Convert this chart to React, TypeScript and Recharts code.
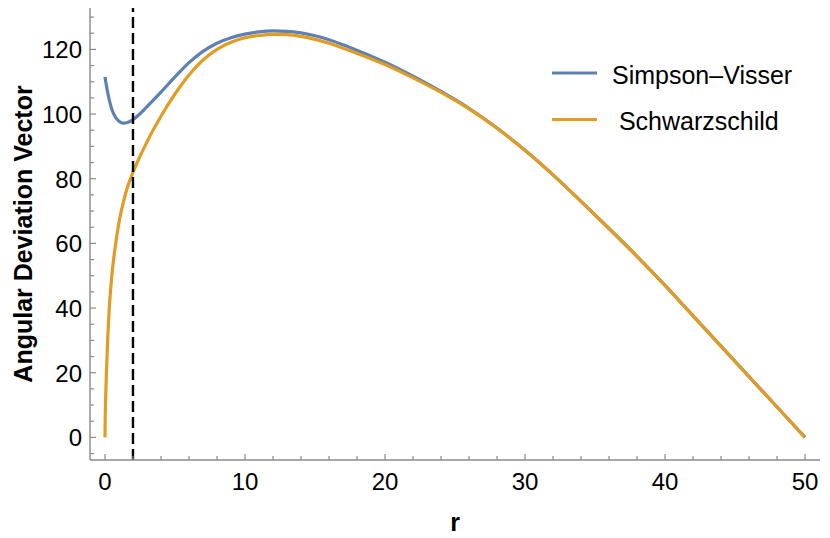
import { Legend, Line, LineChart, ReferenceLine, XAxis, YAxis } from 'recharts';

// r values sampled along the curves (dense near r = 0 where it rises fast)
const rValues = [
  0, 0.02, 0.05, 0.1, 0.2, 0.3, 0.5, 0.75, 1, 1.3, 1.6, 2, 2.5, 3, 4, 5, 6, 7,
  8, 9, 10, 11, 12, 13, 14, 15, 16, 17.5, 20, 22, 24, 26, 28, 30, 32, 34, 36,
  38, 40, 42, 44, 46, 48, 50,
];

const simpsonVisser = [
  111.5, 110.9, 110.1, 108.8, 106.5, 104.5, 101.3, 99, 97.8, 97.2, 97.4, 98.3,
  100.1, 102.3, 106.8, 111.5, 115.9, 119.4, 121.9, 123.6, 124.7, 125.4, 125.7,
  125.6, 125.1, 124.2, 123, 120.6, 116, 111.7, 107, 101.8, 95.7, 88.8, 81.2,
  73, 64.6, 56, 47, 37.6, 28.2, 18.8, 9.4, 0,
];

const schwarzschild = [
  0, 7, 12.5, 19.5, 31, 39.5, 50.5, 59.5, 66.5, 72.5, 77.3, 82, 86.9, 91.4,
  99.3, 106.2, 112.1, 116.7, 120, 122.2, 123.6, 124.3, 124.65, 124.55, 124,
  123.1, 121.9, 119.6, 115.3, 111.2, 106.7, 101.6, 95.6, 88.8, 81.2, 73, 64.6,
  56, 47, 37.6, 28.2, 18.8, 9.4, 0,
];

const xTicks = [
  0, 2, 4, 6, 8, 10, 12, 14, 16, 18, 20, 22, 24, 26, 28, 30, 32, 34, 36, 38, 40,
  42, 44, 46, 48, 50,
];
const yTicks = [
  -5, 0, 5, 10, 15, 20, 25, 30, 35, 40, 45, 50, 55, 60, 65, 70, 75, 80, 85, 90,
  95, 100, 105, 110, 115, 120, 125, 130,
];

const horizonR = 2;

const seriesNames = ['Simpson\u2013Visser', ' Schwarzschild'];

const BLUE = '#5E81B5';
const ORANGE = '#E19C24';
const FRAME = '#8a8a8a';
const FONT = '"Liberation Sans", Arial, sans-serif';

const data = rValues.map((r, i) => ({
  r,
  sv: simpsonVisser[i],
  sch: schwarzschild[i],
}));

const XTick = (props: any) => {
  const { x, y, payload, top } = props;
  const major = payload.value % 10 === 0;
  const len = major ? 6 : 4;
  return (
    <g>
      <line x1={x} x2={x} y1={y} y2={top ? y + len : y - len} stroke={FRAME} strokeWidth={1.2} />
      {!top && major && (
        <text x={x} y={y + 30} textAnchor="middle" fontSize={24} fontFamily={FONT} fill="#000">
          {payload.value}
        </text>
      )}
    </g>
  );
};

const YTick = (props: any) => {
  const { x, y, payload, right } = props;
  const major = payload.value % 20 === 0;
  const len = major ? 6 : 4;
  return (
    <g>
      <line x1={x} x2={right ? x - len : x + len} y1={y} y2={y} stroke={FRAME} strokeWidth={1.2} />
      {!right && major && (
        <text x={x - 8} y={y + 9} textAnchor="end" fontSize={24} fontFamily={FONT} fill="#000">
          {payload.value}
        </text>
      )}
    </g>
  );
};

const LegendBox = () => (
  <svg width={270} height={95} style={{ display: 'block' }}>
    {[BLUE, ORANGE].map((c, i) => (
      <g key={i}>
        <line x1={7} x2={52} y1={23 + i * 46.5} y2={23 + i * 46.5} stroke={c} strokeWidth={3.2} />
        <text
          x={67}
          y={34 + i * 46}
          fontSize={25}
          fontFamily={FONT}
          fill="#000"
          style={{ whiteSpace: 'pre' }}
        >
          {seriesNames[i]}
        </text>
      </g>
    ))}
  </svg>
);

export default function App() {
  return (
    <div style={{ position: 'absolute', left: 0, top: 0, width: 830, height: 538, background: '#fff' }}>
      <LineChart
        width={830}
        height={538}
        data={data}
        margin={{ top: 8, right: 10, left: 0, bottom: 0 }}
      >
        <XAxis
          dataKey="r"
          type="number"
          domain={[-1.07, 51.07]}
          allowDataOverflow
          ticks={xTicks}
          interval={0}
          height={78}
          tickSize={0}
          tickMargin={0}
          tickLine={false}
          tick={<XTick />}
          axisLine={{ stroke: FRAME, strokeWidth: 1.4 }}
          label={{
            content: (p: any) => (
              <text
                x={p.viewBox.x + p.viewBox.width / 2}
                y={p.viewBox.y + 71}
                textAnchor="middle"
                fontSize={25}
                fontWeight="bold"
                fontFamily={FONT}
              >
                r
              </text>
            ),
          }}
        />
        <XAxis
          xAxisId="top"
          orientation="top"
          dataKey="r"
          type="number"
          domain={[-1.07, 51.07]}
          allowDataOverflow
          ticks={xTicks}
          interval={0}
          height={0}
          tickSize={0}
          tickMargin={0}
          tickLine={false}
          tick={<XTick top />}
          axisLine={{ stroke: FRAME, strokeWidth: 1.4 }}
        />
        <YAxis
          type="number"
          domain={[-7, 132.8]}
          allowDataOverflow
          ticks={yTicks}
          interval={0}
          width={90}
          tickSize={0}
          tickMargin={0}
          tickLine={false}
          tick={<YTick />}
          axisLine={{ stroke: FRAME, strokeWidth: 1.4 }}
          label={{
            content: (p: any) => {
              const cx = p.viewBox.x + 32;
              const cy = p.viewBox.y + p.viewBox.height / 2;
              return (
                <text
                  x={cx}
                  y={cy}
                  transform={`rotate(-90 ${cx} ${cy})`}
                  textAnchor="middle"
                  fontSize={25}
                  fontWeight="bold"
                  fontFamily={FONT}
                >
                  Angular Deviation Vector
                </text>
              );
            },
          }}
        />
        <YAxis
          yAxisId="right"
          orientation="right"
          type="number"
          domain={[-7, 132.8]}
          allowDataOverflow
          ticks={yTicks}
          interval={0}
          width={0}
          tickSize={0}
          tickMargin={0}
          tickLine={false}
          tick={<YTick right />}
          axisLine={{ stroke: FRAME, strokeWidth: 1.4 }}
        />
        <Line
          dataKey="sv"
          name={seriesNames[0]}
          type="monotone"
          stroke={BLUE}
          strokeWidth={3.2}
          dot={false}
          isAnimationActive={false}
        />
        <Line
          dataKey="sch"
          name={seriesNames[1]}
          type="monotone"
          stroke={ORANGE}
          strokeWidth={3.2}
          dot={false}
          isAnimationActive={false}
        />
        <ReferenceLine x={horizonR} stroke="#000" strokeWidth={2.4} strokeDasharray="11 5" />
        <Legend
          layout="vertical"
          align="center"
          verticalAlign="middle"
          content={<LegendBox />}
          wrapperStyle={{ left: 545, top: 50, width: 270 }}
        />
      </LineChart>
    </div>
  );
}
